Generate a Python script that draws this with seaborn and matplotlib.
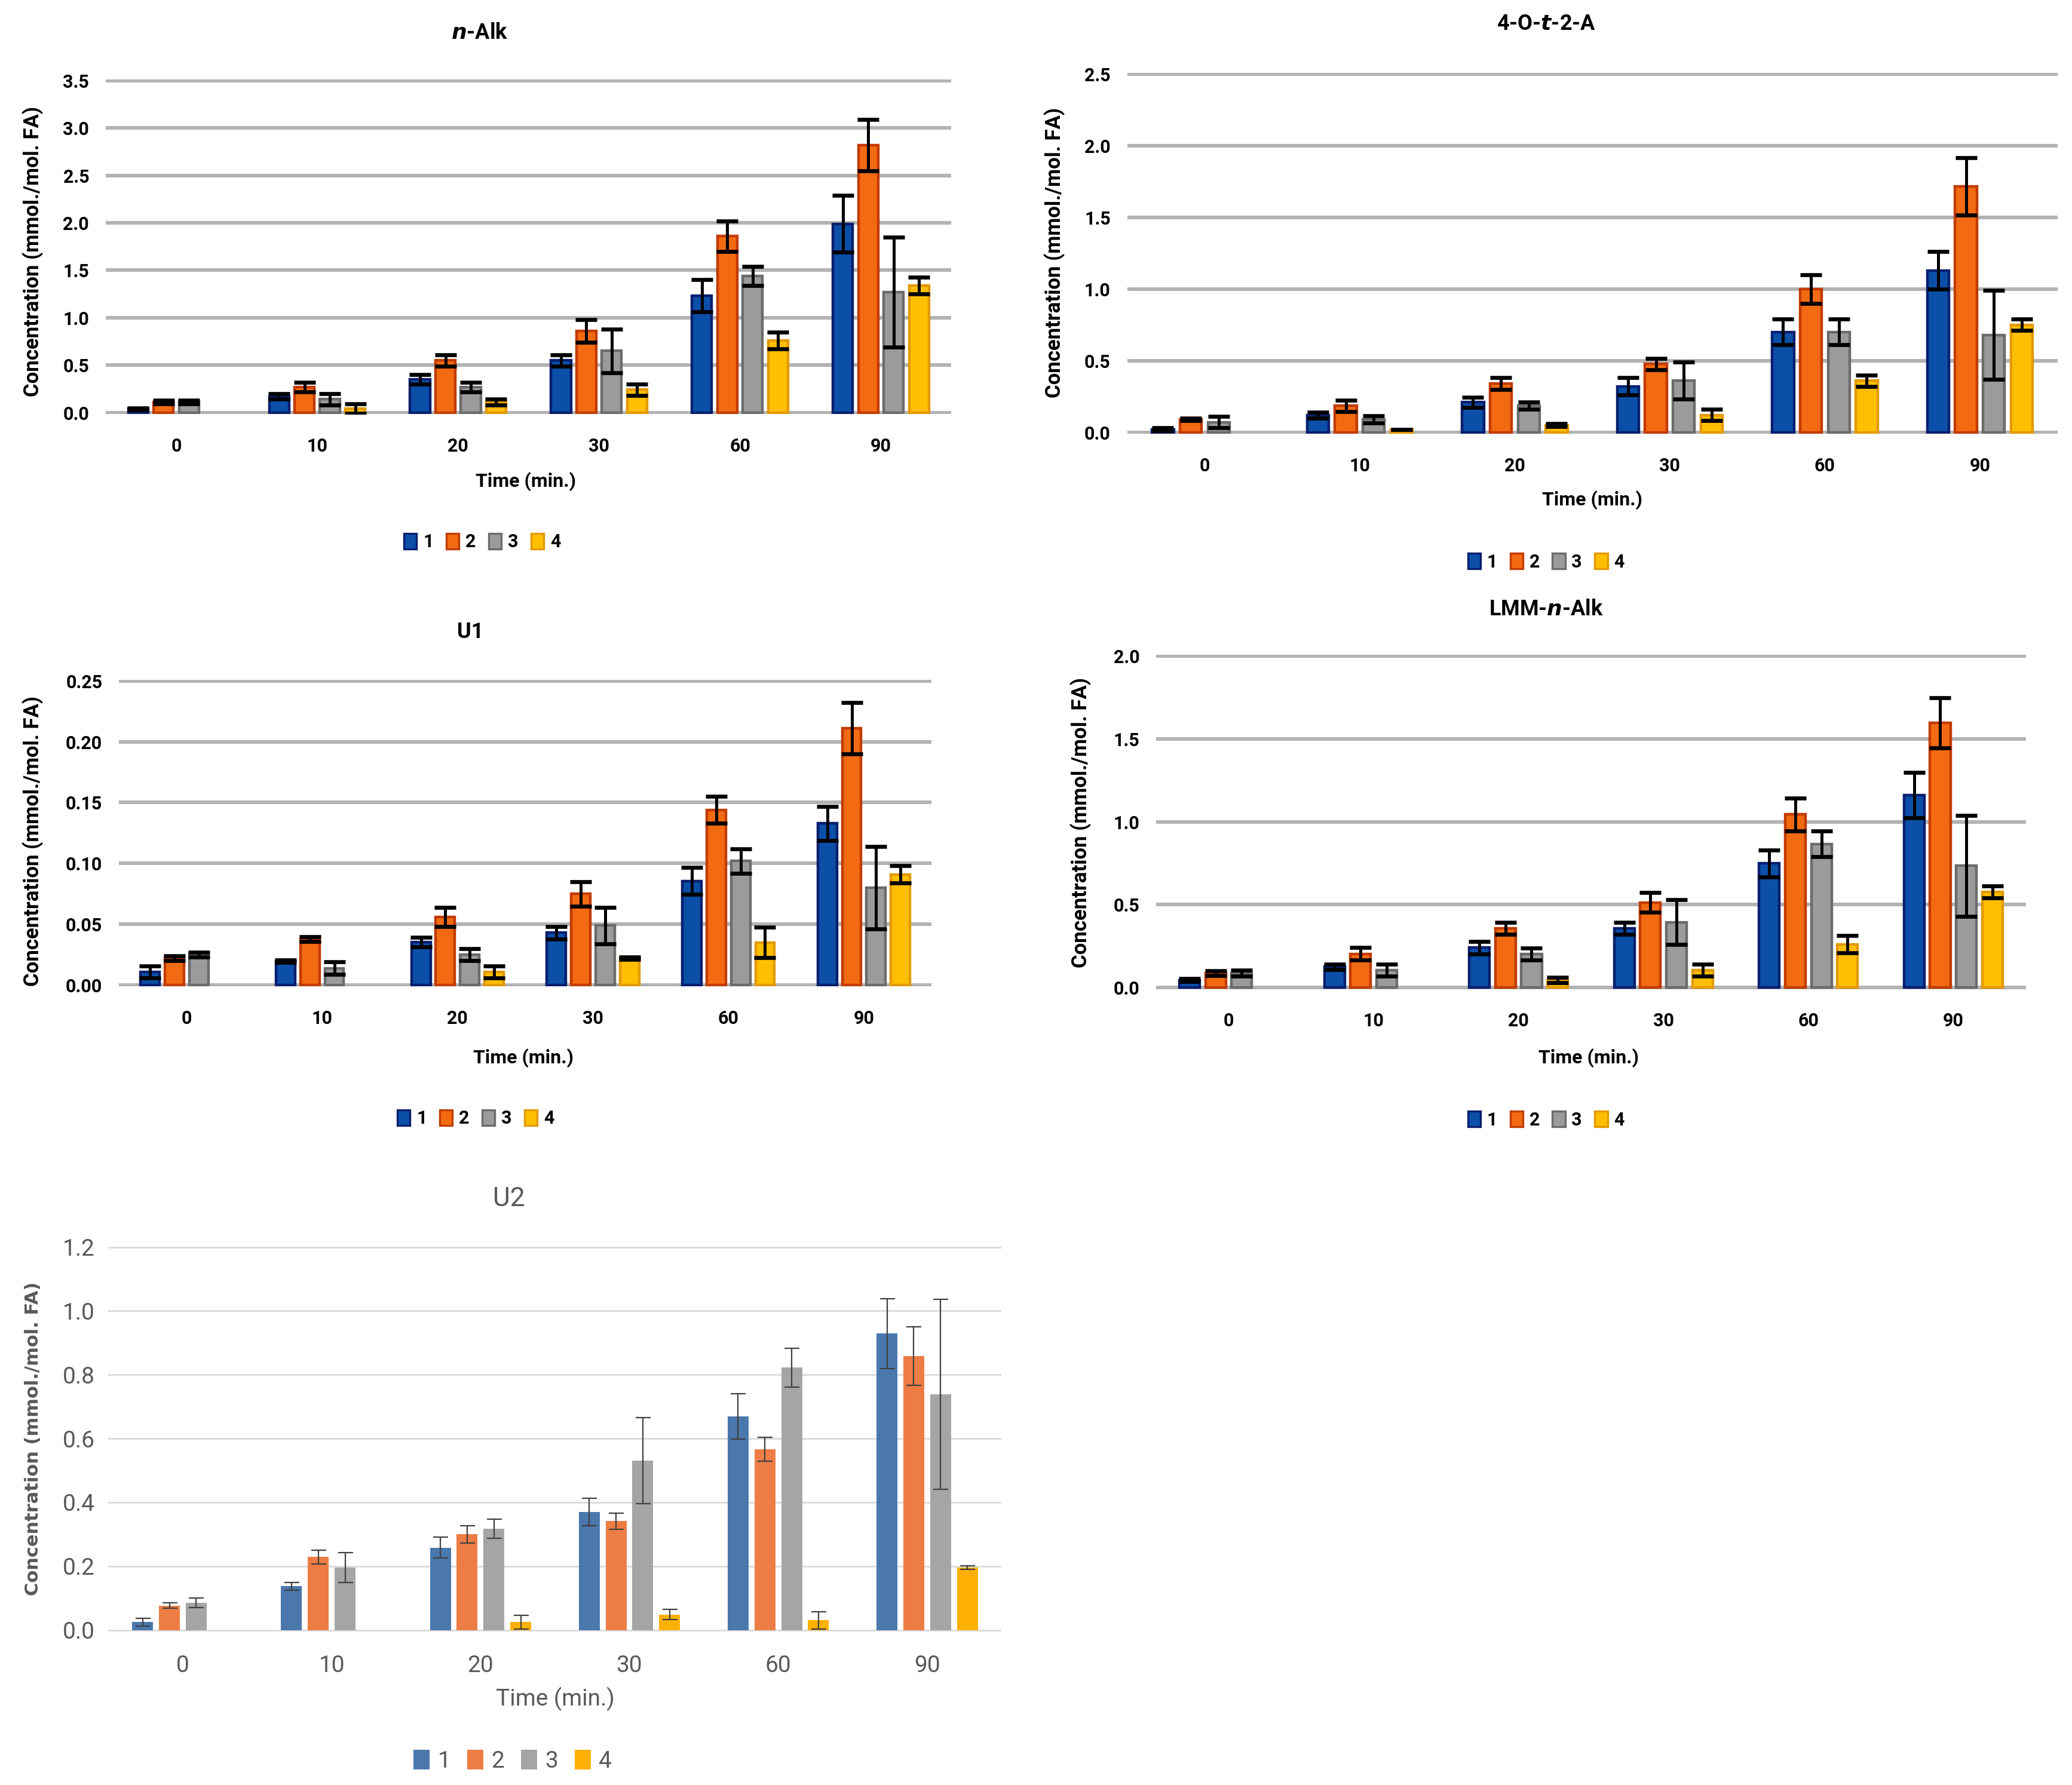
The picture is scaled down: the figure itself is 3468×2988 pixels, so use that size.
import numpy as np
import pandas as pd
import matplotlib
matplotlib.use("Agg")
import matplotlib.pyplot as plt
import seaborn as sns
from matplotlib.patches import Patch

# ---------------- data ----------------
times = ["0", "10", "20", "30", "60", "90"]
series = ["1", "2", "3", "4"]

# n-Alk
nalk_vals = {
    "1": [0.04, 0.17, 0.35, 0.55, 1.23, 1.99],
    "2": [0.11, 0.27, 0.55, 0.86, 1.86, 2.82],
    "3": [0.11, 0.14, 0.27, 0.65, 1.44, 1.27],
    "4": [0.00, 0.04, 0.11, 0.24, 0.76, 1.34],
}
nalk_errs = {
    "1": [0.01, 0.03, 0.05, 0.06, 0.17, 0.30],
    "2": [0.02, 0.05, 0.06, 0.12, 0.16, 0.27],
    "3": [0.02, 0.06, 0.05, 0.23, 0.10, 0.58],
    "4": [0.00, 0.05, 0.03, 0.06, 0.09, 0.09],
}

# 4-O-t-2-A
o2a_vals = {
    "1": [0.02, 0.12, 0.21, 0.32, 0.70, 1.13],
    "2": [0.09, 0.185, 0.34, 0.476, 1.00, 1.715],
    "3": [0.07, 0.09, 0.185, 0.36, 0.70, 0.68],
    "4": [0.00, 0.02, 0.05, 0.12, 0.36, 0.75],
}
o2a_errs = {
    "1": [0.01, 0.02, 0.035, 0.06, 0.09, 0.13],
    "2": [0.01, 0.04, 0.04, 0.04, 0.10, 0.20],
    "3": [0.04, 0.025, 0.025, 0.13, 0.09, 0.31],
    "4": [0.00, 0.00, 0.01, 0.04, 0.04, 0.04],
}

# U1
u1_vals = {
    "1": [0.011, 0.0195, 0.0354, 0.043, 0.0856, 0.133],
    "2": [0.022, 0.038, 0.056, 0.075, 0.144, 0.211],
    "3": [0.025, 0.014, 0.025, 0.049, 0.102, 0.080],
    "4": [0.000, 0.000, 0.011, 0.022, 0.035, 0.091],
}
u1_errs = {
    "1": [0.005, 0.001, 0.004, 0.005, 0.011, 0.014],
    "2": [0.002, 0.002, 0.008, 0.010, 0.011, 0.021],
    "3": [0.002, 0.005, 0.005, 0.015, 0.010, 0.034],
    "4": [0.000, 0.000, 0.005, 0.001, 0.0125, 0.007],
}

# LMM-n-Alk
lmm_vals = {
    "1": [0.046, 0.126, 0.241, 0.357, 0.749, 1.16],
    "2": [0.088, 0.204, 0.357, 0.514, 1.045, 1.595],
    "3": [0.088, 0.105, 0.204, 0.395, 0.867, 0.735],
    "4": [0.000, 0.000, 0.046, 0.105, 0.262, 0.577],
}
lmm_errs = {
    "1": [0.010, 0.015, 0.038, 0.036, 0.080, 0.137],
    "2": [0.015, 0.038, 0.036, 0.059, 0.099, 0.151],
    "3": [0.017, 0.035, 0.036, 0.136, 0.077, 0.304],
    "4": [0.000, 0.000, 0.017, 0.035, 0.053, 0.036],
}

# U2
u2_vals = {
    "1": [0.025, 0.137, 0.258, 0.370, 0.669, 0.929],
    "2": [0.077, 0.229, 0.300, 0.341, 0.567, 0.859],
    "3": [0.086, 0.196, 0.317, 0.531, 0.822, 0.739],
    "4": [0.000, 0.000, 0.025, 0.049, 0.031, 0.196],
}
u2_errs = {
    "1": [0.012, 0.012, 0.033, 0.043, 0.071, 0.110],
    "2": [0.009, 0.022, 0.027, 0.025, 0.037, 0.092],
    "3": [0.015, 0.047, 0.030, 0.135, 0.061, 0.298],
    "4": [0.000, 0.000, 0.022, 0.015, 0.027, 0.006],
}

ylabel = "Concentration (mmol./mol. FA)"
xlabel = "Time (min.)"

# ---------------- style ----------------
sns.set_theme(style="white")
plt.rcParams["font.family"] = ["Roboto", "DejaVu Sans"]
plt.rcParams["mathtext.fontset"] = "custom"
plt.rcParams["mathtext.it"] = "DejaVu Sans:italic:bold"

old_fill = ["#0b4fa8", "#f26b12", "#9b9b9b", "#ffbf00"]
old_edge = ["#0a1f6e", "#c23b00", "#6b6b6b", "#e39a00"]
new_fill = ["#4a78ad", "#ed7d45", "#a5a5a5", "#ffb000"]

fig = plt.figure(figsize=(17.34, 14.94), dpi=200)

W, H = 1568.0, 1350.0


def fx(x):
    return x / W


def fy(y):
    return 1 - y / H


def panel(rect_px, vals, errs, ymax, step, fmt, old_style, title, title_xy,
          ylab_xy, xlab_xy, leg_xy):
    x0, y0, x1, y1 = rect_px
    ax = fig.add_axes([fx(x0), fy(y1), fx(x1) - fx(x0), fy(y0) - fy(y1)])
    rows = []
    for s in series:
        for t, v in zip(times, vals[s]):
            rows.append({"time": t, "series": s, "value": v})
    df = pd.DataFrame(rows)
    fills = old_fill if old_style else new_fill
    sns.barplot(data=df, x="time", y="value", hue="series", order=times,
                hue_order=series, palette=fills, errorbar=None, width=0.72,
                gap=0.22, legend=False, ax=ax, saturation=1)
    bar_conts = list(ax.containers)
    for i, cont in enumerate(bar_conts):
        s = series[i]
        xs, ys, es = [], [], []
        for bar, v, e in zip(cont, vals[s], errs[s]):
            if old_style and v > 0:
                bar.set_edgecolor(old_edge[i])
                bar.set_linewidth(1.6)
            else:
                bar.set_linewidth(0)
            if v > 0:
                xs.append(bar.get_x() + bar.get_width() / 2)
                ys.append(v)
                es.append(e)
        if old_style:
            ax.errorbar(xs, ys, yerr=es, fmt="none", ecolor="black",
                        elinewidth=1.8, capsize=6.5, capthick=2.4, zorder=5)
        else:
            ax.errorbar(xs, ys, yerr=es, fmt="none", ecolor="#404040",
                        elinewidth=0.8, capsize=4.5, capthick=0.8, zorder=5)
    ticks = np.arange(0, ymax + step / 2, step)
    ax.set_yticks(ticks)
    ax.set_yticklabels([fmt % t for t in ticks])
    ax.set_ylim(-ymax * 0.004, ymax * 1.004)
    ax.set_xlim(-0.5, len(times) - 0.5)
    for sp in ax.spines.values():
        sp.set_visible(False)
    ax.set_axisbelow(True)
    if old_style:
        ax.yaxis.grid(True, color="#b3b3b3", linewidth=2.2)
        tcolor = "black"
        ax.tick_params(axis="both", length=0, labelsize=11, colors=tcolor,
                       pad=10)
        for lab in ax.get_xticklabels() + ax.get_yticklabels():
            lab.set_fontweight("bold")
        ax.tick_params(axis="x", pad=14)
    else:
        ax.yaxis.grid(True, color="#d9d9d9", linewidth=1.0)
        tcolor = "#595959"
        ax.tick_params(axis="both", length=0, labelsize=14, colors=tcolor,
                       pad=8)
        ax.tick_params(axis="x", pad=14)
    ax.set_xlabel("")
    ax.set_ylabel("")

    if old_style:
        fig.text(fx(title_xy[0]), fy(title_xy[1]), title, ha="center",
                 va="center", fontsize=13, fontweight="bold", color="black")
        fig.text(fx(ylab_xy[0]), fy(ylab_xy[1]), ylabel, rotation=90,
                 ha="center", va="center", fontsize=12.5, fontweight="bold",
                 color="black")
        fig.text(fx(xlab_xy[0]), fy(xlab_xy[1]), xlabel, ha="center",
                 va="center", fontsize=11.5, fontweight="bold", color="black")
        handles = [Patch(facecolor=c, edgecolor=e, linewidth=1.2)
                   for c, e in zip(old_fill, old_edge)]
        fsz = 11
    else:
        fig.text(fx(title_xy[0]), fy(title_xy[1]), title, ha="center",
                 va="center", fontsize=16, color=tcolor)
        fig.text(fx(ylab_xy[0]), fy(ylab_xy[1]), ylabel, rotation=90,
                 ha="center", va="center", fontsize=11, fontweight="bold",
                 color=tcolor, family=["DejaVu Sans"])
        fig.text(fx(xlab_xy[0]), fy(xlab_xy[1]), xlabel, ha="center",
                 va="center", fontsize=14, color=tcolor)
        handles = [Patch(facecolor=c, edgecolor="none") for c in new_fill]
        fsz = 14
    leg = fig.legend(handles, series, loc="center",
                     bbox_to_anchor=(fx(leg_xy[0]), fy(leg_xy[1])),
                     bbox_transform=fig.transFigure, ncol=4, frameon=False,
                     handlelength=0.7, handleheight=0.9, handletextpad=0.35,
                     columnspacing=0.7, fontsize=fsz)
    for txt in leg.get_texts():
        txt.set_color(tcolor)
        if old_style:
            txt.set_fontweight("bold")
    return ax


panel((80, 60, 720, 313), nalk_vals, nalk_errs, 3.5, 0.5, "%.1f", True,
      r"$\it{n}$-Alk", (363, 25), (25, 190), (398, 364), (365, 410))
panel((853, 55, 1557, 328), o2a_vals, o2a_errs, 2.5, 0.5, "%.1f", True,
      r"4-O-$\it{t}$-2-A", (1170, 18), (798, 191), (1205, 378), (1170, 425))
panel((90, 514, 705, 746), u1_vals, u1_errs, 0.25, 0.05, "%.2f", True,
      "U1", (356, 478), (25, 636), (396, 800), (360, 846))
panel((875, 495, 1533, 748), lmm_vals, lmm_errs, 2.0, 0.5, "%.1f", True,
      r"LMM-$\it{n}$-Alk", (1170, 461), (818, 622), (1202, 800), (1170, 847))
panel((82, 942, 758, 1234), u2_vals, u2_errs, 1.2, 0.2, "%.1f", False,
      "U2", (385, 907), (25, 1088), (420, 1285), (388, 1332))

fig.savefig("out.png", dpi=200, facecolor="white")
